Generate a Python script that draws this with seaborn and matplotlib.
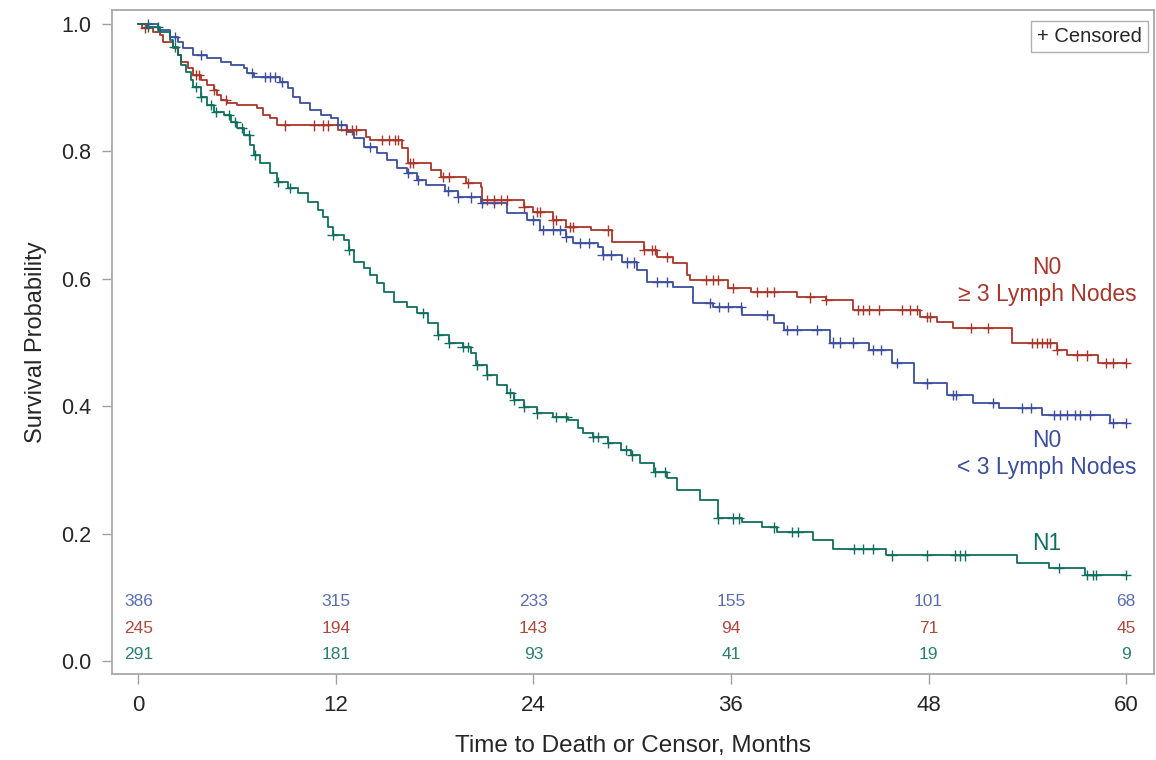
import numpy as np
import pandas as pd
import matplotlib
matplotlib.use("Agg")
import matplotlib.pyplot as plt
import seaborn as sns

# Kaplan-Meier estimates (time in months, survival)
t_blue = [0, 1.2, 1.9, 2.4, 2.7, 3.3, 4.2, 5.0, 5.6, 6.4, 6.6, 7.0, 8.6, 9.1, 9.4, 9.8,
          10.4, 11.1, 11.7, 12.1, 12.7, 13.1, 13.7, 14.5, 15.1, 15.7, 16.3, 16.9, 17.5,
          18.6, 19.4, 20.8, 22.4, 23.6, 24.4, 26.0, 26.4, 27.9, 28.2, 29.4, 30.3, 30.9,
          32.5, 33.7, 34.9, 36.7, 38.6, 39.2, 42.0, 44.4, 45.8, 47.1, 49.1, 50.7, 52.3,
          54.9, 59.0]
s_blue = [1.0, 0.990, 0.980, 0.972, 0.962, 0.951, 0.947, 0.940, 0.936, 0.931, 0.923, 0.917,
          0.909, 0.900, 0.885, 0.876, 0.865, 0.857, 0.852, 0.841, 0.830, 0.821, 0.807, 0.797,
          0.786, 0.774, 0.766, 0.755, 0.747, 0.738, 0.728, 0.719, 0.703, 0.692, 0.677, 0.666,
          0.656, 0.650, 0.637, 0.626, 0.614, 0.595, 0.587, 0.562, 0.556, 0.543, 0.531, 0.520,
          0.500, 0.488, 0.468, 0.436, 0.418, 0.405, 0.397, 0.386, 0.374]

t_red = [0, 0.2, 0.9, 1.3, 1.5, 2.1, 2.4, 2.6, 3.0, 3.3, 3.8, 4.2, 4.6, 4.8, 5.0, 5.4, 6.0,
         7.2, 7.6, 8.0, 8.4, 12.1, 13.8, 14.1, 16.0, 16.4, 17.8, 18.4, 19.9, 20.8, 20.9,
         23.4, 24.0, 25.2, 26.0, 27.5, 28.8, 30.7, 31.5, 32.5, 33.3, 33.5, 35.8, 37.2, 40.0,
         41.8, 43.4, 47.5, 48.5, 49.5, 53.1, 55.8, 56.4, 58.3]
s_red = [1.0, 0.994, 0.987, 0.983, 0.972, 0.962, 0.951, 0.940, 0.931, 0.920, 0.912, 0.904,
         0.896, 0.888, 0.881, 0.876, 0.873, 0.868, 0.857, 0.852, 0.841, 0.834, 0.823, 0.818,
         0.805, 0.782, 0.771, 0.760, 0.750, 0.744, 0.724, 0.713, 0.705, 0.692, 0.681, 0.676,
         0.658, 0.645, 0.634, 0.625, 0.606, 0.598, 0.586, 0.579, 0.571, 0.567, 0.551, 0.540,
         0.532, 0.523, 0.499, 0.488, 0.480, 0.468]

t_green = [0, 0.5, 1.3, 1.9, 2.1, 2.4, 2.6, 2.9, 3.2, 3.3, 3.8, 4.2, 4.6, 5.2, 5.6, 6.0, 6.4,
           6.8, 7.0, 7.4, 8.0, 8.4, 9.1, 9.7, 10.3, 10.9, 11.2, 11.5, 11.8, 12.5, 12.8, 13.1,
           13.7, 14.1, 14.5, 14.9, 15.5, 16.3, 16.9, 17.6, 18.2, 18.9, 19.7, 20.2, 20.5, 21.2,
           21.8, 22.4, 22.8, 23.4, 24.2, 25.2, 26.1, 26.7, 27.0, 27.6, 28.5, 29.3, 29.9, 30.5,
           31.3, 32.1, 32.7, 34.1, 35.2, 36.7, 37.9, 38.8, 41.0, 42.2, 45.4, 53.4, 55.3, 57.5]
s_green = [1.0, 0.995, 0.987, 0.975, 0.964, 0.951, 0.936, 0.925, 0.912, 0.901, 0.885, 0.873,
           0.862, 0.857, 0.846, 0.837, 0.826, 0.810, 0.794, 0.782, 0.766, 0.752, 0.743, 0.735,
           0.721, 0.708, 0.697, 0.681, 0.669, 0.661, 0.645, 0.626, 0.617, 0.606, 0.593, 0.579,
           0.564, 0.556, 0.546, 0.531, 0.512, 0.499, 0.493, 0.484, 0.465, 0.449, 0.433, 0.421,
           0.410, 0.399, 0.389, 0.383, 0.378, 0.366, 0.358, 0.352, 0.342, 0.331, 0.323, 0.311,
           0.297, 0.287, 0.268, 0.253, 0.224, 0.218, 0.210, 0.203, 0.190, 0.176, 0.166, 0.154,
           0.146, 0.135]

# censoring times
c_blue = [0.6, 2.2, 3.8, 6.9, 7.7, 8.0, 8.3, 8.7, 12.3, 14.1, 16.4, 17.0, 18.8, 19.4, 20.2,
          20.9, 21.6, 24.0, 24.6, 25.2, 25.6, 26.0, 26.8, 27.4, 28.2, 28.7, 29.7, 30.1, 31.5,
          32.1, 34.7, 35.3, 35.8, 36.6, 38.2, 39.4, 40.0, 41.2, 42.2, 42.6, 43.4, 44.6, 45.1,
          46.1, 47.9, 49.5, 49.7, 51.9, 53.7, 54.2, 55.6, 56.0, 56.4, 56.9, 57.2, 57.8, 59.2,
          60.0]
c_red = [0.4, 3.5, 3.7, 4.6, 5.3, 8.9, 10.7, 11.2, 11.5, 12.6, 13.0, 13.2, 14.8, 15.2, 15.6,
         15.8, 16.5, 16.7, 18.5, 18.9, 20.0, 21.2, 21.6, 22.0, 22.4, 23.4, 24.2, 24.4, 25.2,
         25.4, 26.2, 26.4, 28.5, 30.7, 31.2, 31.4, 32.1, 34.5, 34.9, 35.2, 36.1, 37.6, 38.2,
         38.6, 40.8, 41.8, 43.7, 44.0, 44.4, 45.0, 46.4, 46.9, 47.3, 47.9, 48.1, 50.6, 51.6,
         54.3, 54.6, 54.9, 55.2, 55.4, 55.8, 57.0, 57.6, 58.8, 59.2, 60.0]
c_green = [0.6, 1.2, 2.2, 3.5, 3.8, 4.4, 4.7, 5.5, 5.9, 6.3, 6.7, 7.1, 8.5, 9.2, 11.8, 12.8,
           17.3, 18.2, 18.9, 19.7, 20.0, 20.6, 21.2, 22.6, 22.8, 23.4, 24.2, 25.4, 26.0, 27.6,
           27.9, 28.5, 29.6, 30.0, 31.4, 32.0, 35.2, 36.1, 36.5, 38.6, 39.7, 40.1, 43.5, 44.0,
           44.6, 45.8, 47.9, 49.6, 49.9, 50.2, 55.9, 57.6, 58.0, 58.2, 60.0]

# numbers at risk
risk_times = [0, 12, 24, 36, 48, 60]
risk_blue = [386, 315, 233, 155, 101, 68]
risk_red = [245, 194, 143, 94, 71, 45]
risk_green = [291, 181, 93, 41, 19, 9]

end_time = 60
groups = ["N0 < 3", "N0 >= 3", "N1"]
colors = {"N0 < 3": "#3C4E9C", "N0 >= 3": "#A8372B", "N1": "#0F6E5E"}
risk_colors = ["#5A6DB0", "#B0483C", "#2B7F6F"]

curve_rows = []
cens_rows = []
for g, t, s, c in zip(groups, [t_blue, t_red, t_green], [s_blue, s_red, s_green],
                      [c_blue, c_red, c_green]):
    tt = list(t) + [end_time]
    ss = list(s) + [s[-1]]
    curve_rows.append(pd.DataFrame({"time": tt, "surv": ss, "group": g}))
    idx = np.searchsorted(t, c, side="right") - 1
    cens_rows.append(pd.DataFrame({"time": c, "surv": np.array(s)[idx], "group": g}))
curves = pd.concat(curve_rows, ignore_index=True)
cens = pd.concat(cens_rows, ignore_index=True)

sns.set_style("white")
plt.rcParams["font.family"] = ["Liberation Sans", "DejaVu Sans"]

fig = plt.figure(figsize=(11.56, 7.6), dpi=100)
ax = fig.add_axes([0.0969, 0.1132, 0.9014, 0.8736])

sns.lineplot(data=curves, x="time", y="surv", hue="group", palette=colors,
             estimator=None, sort=False, drawstyle="steps-post", linewidth=1.3,
             legend=False, ax=ax)
sns.scatterplot(data=cens, x="time", y="surv", hue="group", palette=colors,
                marker="+", s=55, linewidth=1.0, legend=False, ax=ax, zorder=3)

# at-risk table inside the plot
for row_y, counts, col in zip([0.093, 0.052, 0.010], [risk_blue, risk_red, risk_green],
                              risk_colors):
    for x, n in zip(risk_times, counts):
        ax.text(x, row_y, str(n), color=col, fontsize=12.5, ha="center", va="center")

# curve labels
ax.text(55.2, 0.597, "N0\n≥ 3 Lymph Nodes", color=colors["N0 >= 3"], fontsize=16.5,
        ha="center", va="center", linespacing=1.2)
ax.text(55.2, 0.325, "N0\n< 3 Lymph Nodes", color=colors["N0 < 3"], fontsize=16.5,
        ha="center", va="center", linespacing=1.2)
ax.text(55.2, 0.185, "N1", color=colors["N1"], fontsize=16.5, ha="center", va="center")

ax.text(0.988, 0.975, "+ Censored", transform=ax.transAxes, fontsize=14.5, ha="right",
        va="top", bbox=dict(boxstyle="square,pad=0.3", fc="white", ec="#B0B0B0", lw=1))

ax.set_xlim(-1.6, 61.7)
ax.set_ylim(-0.020, 1.022)
ax.set_xticks(risk_times)
ax.set_yticks([0.0, 0.2, 0.4, 0.6, 0.8, 1.0])
ax.set_yticklabels(["0.0", "0.2", "0.4", "0.6", "0.8", "1.0"])
ax.tick_params(axis="x", bottom=True, length=7, width=1, color="#A0A0A0", labelsize=16,
               pad=8)
ax.tick_params(axis="y", left=True, length=7, width=1, color="#A0A0A0", labelsize=15.5,
               pad=8)
for sp in ax.spines.values():
    sp.set_color("#A8A8A8")
    sp.set_linewidth(1.3)
ax.set_xlabel("Time to Death or Censor, Months", fontsize=17.5, labelpad=14)
ax.set_ylabel("Survival Probability", fontsize=17, labelpad=10)

fig.savefig("out.png", dpi=100)
